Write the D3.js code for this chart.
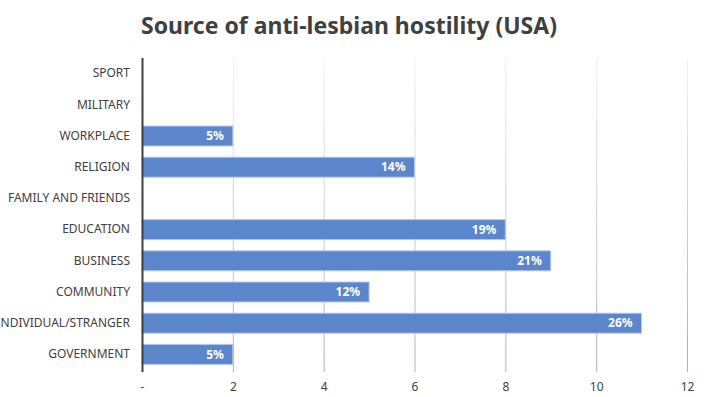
<!DOCTYPE html>
<html lang="en">
<head>
    <meta charset="UTF-8">
    <title>Source of anti-lesbian hostility (USA)</title>
    <style>
        * { margin: 0; padding: 0; }
        body { background: #fff; font-family: "Noto Sans", "Open Sans", sans-serif; }
        svg { display: block; }
        .cat text, .xax text { fill: #404040; font-size: 12px; font-family: "Noto Sans", sans-serif; }
    </style>
    <script src="https://cdn.jsdelivr.net/npm/d3@7"></script>
</head>
<body>
    <div id="chart"></div>
    <script>
        // data, top to bottom
        var categories = ['SPORT', 'MILITARY', 'WORKPLACE', 'RELIGION', 'FAMILY AND FRIENDS',
                          'EDUCATION', 'BUSINESS', 'COMMUNITY', 'INDIVIDUAL/STRANGER', 'GOVERNMENT'];
        var values = [0, 0, 2, 6, 0, 8, 9, 5, 11, 2];
        var labels = ['', '', '5%', '14%', '', '19%', '21%', '12%', '26%', '5%'];
        var xTicks = [0, 2, 4, 6, 8, 10, 12];

        var w = 709, h = 397,
            padL = 142, padR = 687, padT = 58, padB = 370;

        var svg = d3.select('#chart').append('svg')
                    .attr('width', w)
                    .attr('height', h);

        var defs = svg.append('defs');
        var grad = defs.append('linearGradient')
                       .attr('id', 'gridGrad')
                       .attr('gradientUnits', 'userSpaceOnUse')
                       .attr('x1', 0).attr('y1', padT)
                       .attr('x2', 0).attr('y2', padB);
        grad.append('stop').attr('offset', '0%').attr('stop-color', '#f0f0f0');
        grad.append('stop').attr('offset', '100%').attr('stop-color', '#b0b0b0');

        svg.append('text')
            .attr('x', 349)
            .attr('y', 34)
            .attr('text-anchor', 'middle')
            .style('font-size', '23px')
            .style('font-weight', 'bold')
            .style('fill', '#404040')
            .text('Source of anti-lesbian hostility (USA)');

        var xScale = d3.scaleLinear().domain([0, 12]).range([padL, padR]);
        var yScale = d3.scaleBand().domain(categories).range([padT, padB]).paddingInner(0.36).paddingOuter(0.18);

        // gridlines
        svg.append('g')
            .selectAll('line')
            .data(xTicks.slice(1))
            .enter()
            .append('line')
            .attr('x1', (d) => xScale(d) + 0.5)
            .attr('x2', (d) => xScale(d) + 0.5)
            .attr('y1', padT)
            .attr('y2', padB + 2)
            .attr('stroke', 'url(#gridGrad)')
            .attr('stroke-width', 1);

        // bars
        var data = categories.map((c, i) => ({ cat: c, v: values[i], lab: labels[i] }));
        svg.append('g')
            .selectAll('rect')
            .data(data.filter((d) => d.v > 0))
            .enter()
            .append('rect')
            .attr('x', xScale(0))
            .attr('y', (d) => yScale(d.cat))
            .attr('width', (d) => xScale(d.v) - xScale(0))
            .attr('height', yScale.bandwidth())
            .attr('fill', '#5b86cc')
            .attr('stroke', '#b4c8ec')
            .attr('stroke-width', 1);

        svg.append('g')
            .selectAll('text')
            .data(data.filter((d) => d.v > 0))
            .enter()
            .append('text')
            .attr('x', (d) => xScale(d.v) - 9)
            .attr('y', (d) => yScale(d.cat) + yScale.bandwidth() / 2)
            .attr('dy', '0.35em')
            .attr('text-anchor', 'end')
            .style('fill', '#fff')
            .style('font-size', '12px')
            .style('font-weight', 'bold')
            .text((d) => d.lab);

        // category axis
        var yAxis = d3.axisLeft(yScale).tickSize(0).tickPadding(12);
        var yg = svg.append('g')
            .attr('class', 'cat')
            .attr('transform', 'translate(' + padL + ',0)')
            .call(yAxis);
        yg.select('.domain').remove();

        svg.append('line')
            .attr('x1', padL + 0.5).attr('x2', padL + 0.5)
            .attr('y1', padT).attr('y2', padB + 2)
            .attr('stroke', '#404040')
            .attr('stroke-width', 2);

        // value axis
        var xAxis = d3.axisBottom(xScale)
                      .tickValues(xTicks)
                      .tickSize(0)
                      .tickPadding(12)
                      .tickFormat((d) => d === 0 ? '-' : d);
        var xg = svg.append('g')
            .attr('class', 'xax')
            .attr('transform', 'translate(0,' + padB + ')')
            .call(xAxis);
        xg.select('.domain').remove();
    </script>
</body>
</html>
